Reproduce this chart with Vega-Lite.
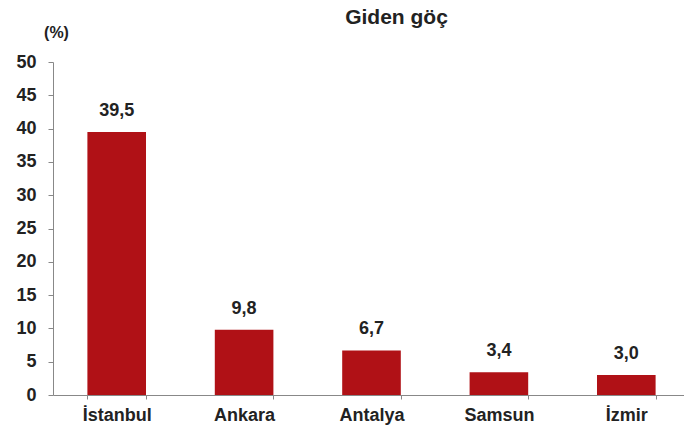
{
  "$schema": "https://vega.github.io/schema/vega-lite/v6.json",
  "width": 637,
  "height": 333,
  "autosize": {"type": "none"},
  "padding": {"left": 53, "top": 62, "right": 0, "bottom": 40},
  "background": "white",
  "config": {
    "view": {"stroke": null},
    "font": "Liberation Sans"
  },
  "title": {
    "text": "Giden göç",
    "fontSize": 21,
    "fontWeight": "bold",
    "color": "#222",
    "anchor": "middle",
    "dx": 25,
    "offset": -4
  },
  "data": {
    "values": [
      {"il": "İstanbul", "oran": 39.5, "etiket": "39,5"},
      {"il": "Ankara", "oran": 9.8, "etiket": "9,8"},
      {"il": "Antalya", "oran": 6.7, "etiket": "6,7"},
      {"il": "Samsun", "oran": 3.4, "etiket": "3,4"},
      {"il": "İzmir", "oran": 3.0, "etiket": "3,0"}
    ]
  },
  "encoding": {
    "x": {
      "field": "il",
      "type": "nominal",
      "sort": null,
      "scale": {"paddingInner": 0.54, "paddingOuter": 0.27},
      "axis": {
        "title": null,
        "labelAngle": 0,
        "labelFont": "Liberation Sans",
        "labelFontSize": 18,
        "labelFontWeight": "bold",
        "labelColor": "#222",
        "labelPadding": 7,
        "tickBand": "extent",
        "tickSize": 4,
        "tickColor": "#888",
        "domainColor": "#888"
      }
    },
    "y": {
      "field": "oran",
      "type": "quantitative",
      "scale": {"domain": [0, 50], "nice": false},
      "axis": {
        "title": "(%)",
        "titleAngle": 0,
        "titleX": 3,
        "titleY": -22,
        "titleAlign": "center",
        "titleFontSize": 16,
        "titleFontWeight": "bold",
        "titleColor": "#222",
        "values": [0, 5, 10, 15, 20, 25, 30, 35, 40, 45, 50],
        "grid": false,
        "labelFont": "Liberation Sans",
        "labelFontSize": 18,
        "labelFontWeight": "bold",
        "labelColor": "#222",
        "labelPadding": 12,
        "tickSize": 5,
        "tickColor": "#888",
        "domainColor": "#888"
      }
    }
  },
  "layer": [
    {"mark": {"type": "bar", "color": "#B01116"}},
    {
      "mark": {
        "type": "text",
        "baseline": "bottom",
        "dy": -12,
        "fontSize": 18,
        "fontWeight": "bold",
        "color": "#222",
        "font": "Liberation Sans"
      },
      "encoding": {"text": {"field": "etiket"}}
    }
  ]
}
